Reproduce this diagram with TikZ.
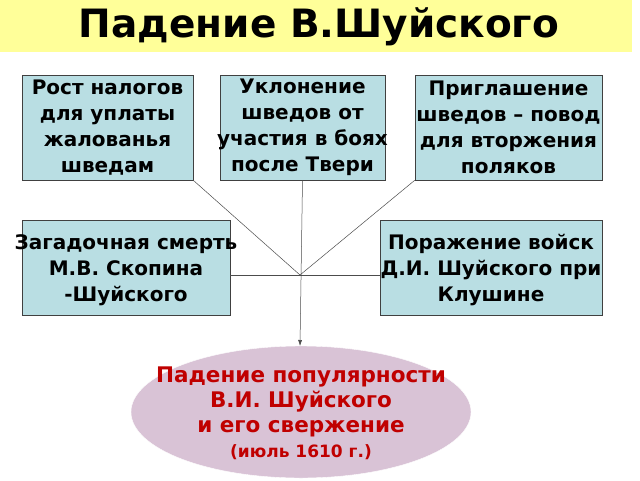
\documentclass[tikz,border=0pt]{standalone}
\usepackage{fontspec}
\setmainfont{DejaVu Sans}
\usetikzlibrary{shapes.geometric,arrows.meta}
\definecolor{boxblue}{HTML}{B9DEE3}
\definecolor{titley}{HTML}{FFFF99}
\definecolor{ell}{HTML}{D9C3D6}
\definecolor{redt}{HTML}{C00000}
\tikzset{
 px/.style={x=1pt,y=-1pt},
 cause/.style={draw=black!75,fill=boxblue,line width=0.6pt,inner sep=0pt},
 ctext/.style={font=\bfseries\fontsize{20}{26}\selectfont,align=center},
 conn/.style={draw=black!70,line width=0.5pt}
}
\begin{document}
\begin{tikzpicture}[px]
\useasboundingbox (0,0) rectangle (640,480);
\fill[white] (0,0) rectangle (640,480);
\fill[titley] (0,0) rectangle (632,52);
\node[font=\bfseries\fontsize{39}{44}\selectfont] (title) at (319,27) {Падение В.Шуйского};
\node[cause,minimum width=171pt,minimum height=105pt] (b1) at (107.5,127.5) {};
\node[ctext] at (b1) {Рост налогов\\ для уплаты\\жалованья\\шведам};
\node[cause,minimum width=165pt,minimum height=105pt] (b2) at (302.5,127.5) {};
\node[ctext] at (b2) {Уклонение\\шведов от\\участия  в боях\\после Твери};
\node[cause,minimum width=187pt,minimum height=105pt] (b3) at (508.5,127.5) {};
\node[ctext] at (b3) {Приглашение\\шведов – повод\\для вторжения\\поляков};
\node[cause,minimum width=208pt,minimum height=95pt] (b4) at (126,267.5) {};
\node[ctext] at (126,270) {Загадочная смерть\\М.В. Скопина\\-Шуйского};
\node[cause,minimum width=222pt,minimum height=95pt] (b5) at (491,267.5) {};
\node[ctext] at (491,270) {Поражение войск\\Д.И. Шуйского при\\Клушине};
\node[ellipse,fill=ell,draw=white,minimum width=340pt,minimum height=132pt] (e) at (301,412) {};
\node[font=\bfseries\fontsize{21.5}{25}\selectfont,align=center,text=redt] at (301,413) {Падение популярности\\В.И. Шуйского\\и его свержение\\{\fontsize{17}{20}\selectfont (июль 1610 г.)}};
\coordinate (j) at (300,275);
\draw[conn] (b1.south east) -- (j);
\draw[conn] (b3.south west) -- (j);
\draw[conn] (b4.east |- j) -- (b5.west |- j);
\draw[conn,-{Latex[length=6pt,width=4pt]}] (b2.south) -- (300,346);
\end{tikzpicture}
\end{document}
